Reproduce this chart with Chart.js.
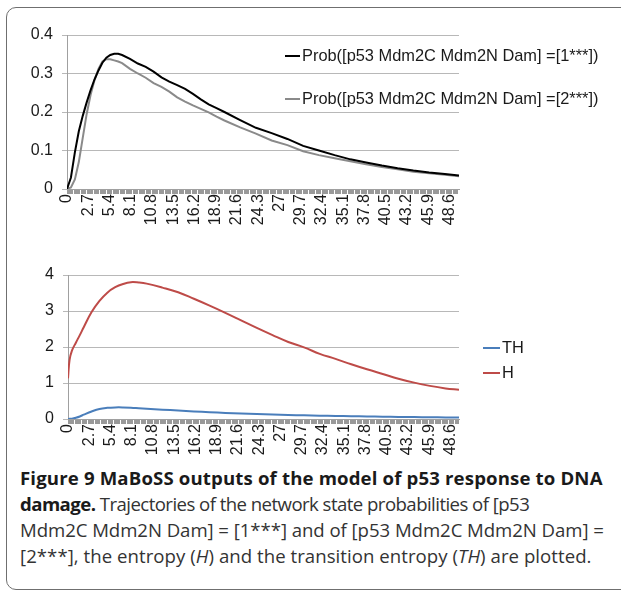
<!DOCTYPE html>
<html>
<head>
<meta charset="utf-8">
<script src="https://cdn.jsdelivr.net/npm/chart.js@4/dist/chart.umd.min.js"></script>
<style>
  html, body { margin: 0; padding: 0; background: #fff; }
  body { width: 621px; height: 590px; position: relative; overflow: hidden; }
  #frame {
    position: absolute; left: 6px; top: 7px; width: 700px; height: 581px;
    border: 1px solid #6f6f6f; border-radius: 10px;
  }
  canvas { position: absolute; left: 0; }
  #probCanvas { top: 0; }
  #entropyCanvas { top: 245px; }
  #caption {
    position: absolute; left: 20px; top: 465px;
    font-family: "Open Sans", sans-serif; font-size: 18.6px; line-height: 26px;
    color: #333; white-space: nowrap;
  }
  #caption b { color: #1a1a1a; font-weight: 700; }
  #caption .l1 { letter-spacing: 0.15px; }
  #caption .l2 { letter-spacing: -0.55px; }
  #caption .l3 { letter-spacing: -0.05px; }
  #caption .l4 { letter-spacing: 0.05px; }
</style>
</head>
<body>
<div id="frame"></div>
<canvas id="probCanvas" width="621" height="245"></canvas>
<canvas id="entropyCanvas" width="621" height="220"></canvas>
<div id="caption"><span class="l1"><b>Figure 9 MaBoSS outputs of the model of p53 response to DNA</b></span><br><span class="l2"><b>damage.</b> Trajectories of the network state probabilities of [p53</span><br><span class="l3">Mdm2C Mdm2N Dam] = [1***] and of [p53 Mdm2C Mdm2N Dam] =</span><br><span class="l4">[2***], the entropy (<i>H</i>) and the transition entropy (<i>TH</i>) are plotted.</span></div>

<script>
// tick labels shown on both time axes (every 18th minor tick)
const xTickLabels = ['0', '2.7', '5.4', '8.1', '10.8', '13.5', '16.2', '18.9', '21.6', '24.3',
    '27', '29.7', '32.4', '35.1', '37.8', '40.5', '43.2', '45.9', '48.6'];
const labelStep = 2.7;
const minorPerLabel = 18;

// top chart: state probabilities
const probTime = [0, 0.5, 1, 1.5, 2, 2.5, 3, 3.5, 4, 4.5, 5, 5.5, 6, 6.5, 7, 8, 9, 10, 11, 12,
    13, 14, 15, 16, 17, 18, 19, 20, 22, 24, 26, 28, 30, 32, 34, 36, 38, 40, 42, 44, 46, 48, 49.8];
const prob1 = [0, 0.03, 0.095, 0.15, 0.19, 0.225, 0.257, 0.285, 0.308, 0.328, 0.341, 0.348, 0.351,
    0.351, 0.348, 0.338, 0.326, 0.317, 0.305, 0.29, 0.279, 0.27, 0.26, 0.247, 0.233, 0.22, 0.21, 0.2,
    0.179, 0.159, 0.145, 0.13, 0.112, 0.1, 0.088, 0.077, 0.069, 0.061, 0.054, 0.048, 0.043, 0.039, 0.035];
const prob2 = [0, 0.004, 0.025, 0.07, 0.133, 0.195, 0.245, 0.283, 0.312, 0.331, 0.337, 0.337, 0.334,
    0.331, 0.327, 0.312, 0.3, 0.289, 0.275, 0.265, 0.253, 0.238, 0.227, 0.217, 0.208, 0.199, 0.188, 0.178,
    0.16, 0.144, 0.126, 0.114, 0.098, 0.088, 0.08, 0.072, 0.064, 0.057, 0.051, 0.045, 0.041, 0.037, 0.033];

// bottom chart: entropies
const entTime = [0, 0.2, 0.5, 1, 1.5, 2, 3, 4, 5, 6, 7, 8, 9, 10, 12, 14, 16, 18, 20, 22, 24, 26,
    28, 30, 32, 34, 36, 38, 40, 42, 44, 46, 48, 49.7];
const thValues = [0, 0.005, 0.01, 0.035, 0.07, 0.12, 0.21, 0.28, 0.31, 0.322, 0.322, 0.315, 0.3, 0.285,
    0.26, 0.235, 0.21, 0.19, 0.17, 0.152, 0.138, 0.125, 0.113, 0.102, 0.093, 0.085, 0.077, 0.07, 0.064,
    0.058, 0.053, 0.048, 0.044, 0.04];
const hValues = [1.13, 1.64, 1.9, 2.12, 2.33, 2.55, 2.97, 3.28, 3.51, 3.66, 3.75, 3.8, 3.79, 3.76,
    3.65, 3.52, 3.34, 3.15, 2.95, 2.74, 2.53, 2.33, 2.14, 1.99, 1.81, 1.67, 1.52, 1.38, 1.25, 1.12,
    1.01, 0.92, 0.85, 0.81];

const FONT = '"Liberation Sans", Arial, sans-serif';
Chart.defaults.font.family = FONT;
Chart.defaults.font.size = 16;
Chart.defaults.color = '#1a1a1a';

const toPoints = (xs, ys) => xs.map((x, i) => ({ x: x, y: ys[i] }));

// legend drawn beside / inside the plot like the original spreadsheet chart
const lineLegend = {
    id: 'lineLegend',
    afterDraw(chart, args, opts) {
        const ctx = chart.ctx;
        ctx.save();
        ctx.font = '16.4px ' + FONT;
        ctx.textBaseline = 'middle';
        chart.data.datasets.forEach((ds, i) => {
            const y = opts.top + i * opts.gap;
            ctx.strokeStyle = ds.borderColor;
            ctx.lineWidth = 2;
            ctx.beginPath();
            ctx.moveTo(opts.left, y);
            ctx.lineTo(opts.left + opts.lineLen, y);
            ctx.stroke();
            ctx.fillStyle = '#1a1a1a';
            ctx.fillText(ds.label, opts.left + opts.lineLen + 2, y);
        });
        ctx.restore();
    }
};

function timeAxis(xMax, axisHeight) {
    return {
        type: 'linear',
        min: 0,
        max: xMax,
        afterBuildTicks: scale => {
            const ticks = [];
            for (let i = 0; i * labelStep / minorPerLabel <= xMax; i++) {
                ticks.push({ value: i * labelStep / minorPerLabel });
            }
            scale.ticks = ticks;
        },
        afterFit: scale => { scale.height = axisHeight; },
        ticks: {
            autoSkip: false,
            minRotation: 90,
            maxRotation: 90,
            padding: 0,
            callback: (value, index) => index % minorPerLabel === 0 ? xTickLabels[index / minorPerLabel] : ''
        },
        grid: { drawOnChartArea: false, color: '#999999', tickLength: 5 },
        border: { color: '#a0a0a0' }
    };
}

function valueAxis(max, step, width) {
    return {
        min: 0,
        max: max,
        ticks: { stepSize: step, padding: 9 },
        afterFit: scale => { scale.width = width; },
        grid: { color: '#b8b8b8', tickLength: 5 },
        border: { color: '#a0a0a0' }
    };
}

new Chart(document.getElementById('probCanvas'), {
    type: 'line',
    data: {
        datasets: [
            { label: 'Prob([p53 Mdm2C Mdm2N Dam] =[1***])', data: toPoints(probTime, prob1),
              borderColor: '#000000', borderWidth: 2, pointRadius: 0, tension: 0 },
            { label: 'Prob([p53 Mdm2C Mdm2N Dam] =[2***])', data: toPoints(probTime, prob2),
              borderColor: '#8a8a8a', borderWidth: 2, pointRadius: 0, tension: 0 }
        ]
    },
    options: {
        responsive: false,
        animation: false,
        layout: { padding: { left: 0, right: 162, top: 35, bottom: 6 } },
        scales: {
            x: timeAxis(49.8, 50),
            y: valueAxis(0.4, 0.1, 67)
        },
        plugins: {
            legend: { display: false },
            tooltip: { enabled: false },
            lineLegend: { left: 285, lineLen: 15, top: 56, gap: 43 }
        }
    },
    plugins: [lineLegend]
});

new Chart(document.getElementById('entropyCanvas'), {
    type: 'line',
    data: {
        datasets: [
            { label: 'TH', data: toPoints(entTime, thValues),
              borderColor: '#4a7ebb', borderWidth: 2, pointRadius: 0, tension: 0.4 },
            { label: 'H', data: toPoints(entTime, hValues),
              borderColor: '#be4b48', borderWidth: 2, pointRadius: 0, tension: 0.4 }
        ]
    },
    options: {
        responsive: false,
        animation: false,
        layout: { padding: { left: 0, right: 162, top: 30, bottom: 6 } },
        scales: {
            x: timeAxis(49.7, 40),
            y: valueAxis(4, 1, 68)
        },
        plugins: {
            legend: { display: false },
            tooltip: { enabled: false },
            lineLegend: { left: 483, lineLen: 17, top: 103, gap: 25 }
        }
    },
    plugins: [lineLegend]
});
</script>
</body>
</html>
